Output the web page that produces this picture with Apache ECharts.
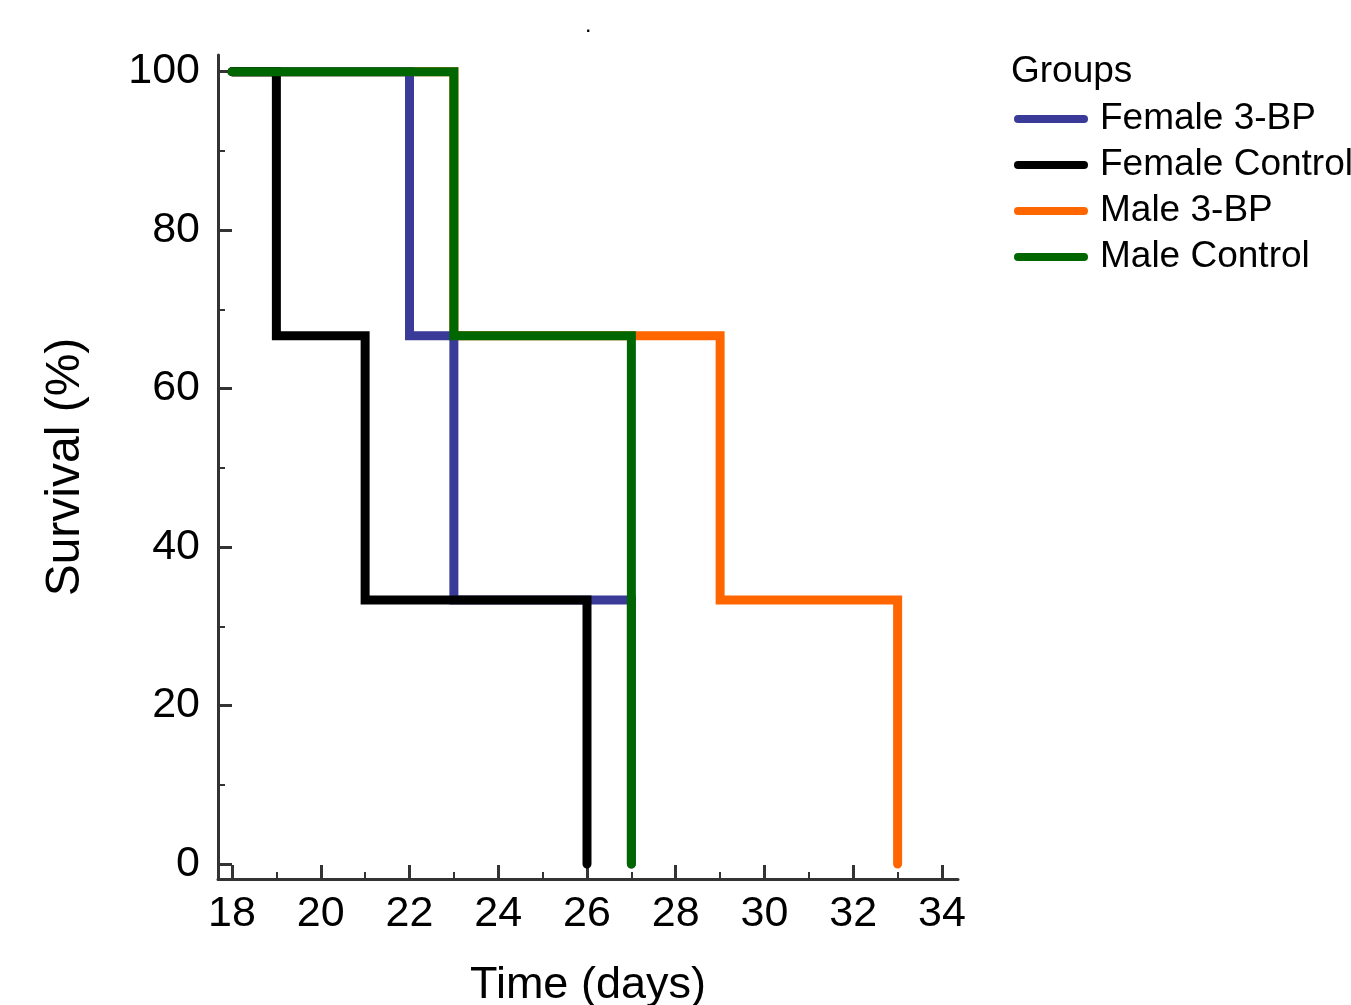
<!DOCTYPE html>
<html>
<head>
<meta charset="utf-8">
<script src="https://cdn.jsdelivr.net/npm/echarts@6/dist/echarts.min.js"></script>
<style>
html,body{margin:0;padding:0;background:#fff;}
#chart{width:1351px;height:1005px;}
</style>
</head>
<body>
<div id="chart"></div>
<script>
// ---- data ----
const groupNames = ['Female 3-BP', 'Female Control', 'Male 3-BP', 'Male Control'];
const femaleBPTimes = [18, 22, 23, 27];
const femaleBPSurv = [100, 66.67, 33.33, 0];
const femaleCtrlTimes = [18, 19, 21, 26];
const femaleCtrlSurv = [100, 66.67, 33.33, 0];
const maleBPTimes = [18, 23, 29, 33];
const maleBPSurv = [100, 66.67, 33.33, 0];
const maleCtrlTimes = [18, 23, 27];
const maleCtrlSurv = [100, 66.67, 0];
const xMajorTicks = [18, 20, 22, 24, 26, 28, 30, 32, 34];
const xMinorTicks = [19, 21, 23, 25, 27, 29, 31, 33];
const yMajorTicks = [0, 20, 40, 60, 80, 100];
const yMinorTicks = [10, 30, 50, 70, 90];

function pairs(t, s) { return t.map((v, i) => [v, s[i]]); }

const colors = {
  'Female 3-BP': '#3a3a98',
  'Female Control': '#000000',
  'Male 3-BP': '#ff6600',
  'Male Control': '#006600'
};
const axisColor = '#333333';
const font = 'Arial, "Liberation Sans", sans-serif';

const xRange = { min: 17.6845, max: 34.3606 };
const yRange = { min: -1.893, max: 102.1 };

function stepSeries(name, t, s, z) {
  return {
    name: name,
    type: 'line',
    step: 'end',
    xAxisIndex: 0,
    yAxisIndex: 0,
    data: pairs(t, s),
    symbol: 'none',
    z: z,
    lineStyle: { color: colors[name], width: 9, cap: 'round', join: 'miter' },
    itemStyle: { color: colors[name] },
    animation: false
  };
}

const pill = 'path://M4,0 L70,0 A4,4 0 0 1 70,8 L4,8 A4,4 0 0 1 4,0 Z';

const option = {
  backgroundColor: '#ffffff',
  animation: false,
  title: [
    { text: 'Groups', left: 1011, top: 53, padding: 0, textStyle: { fontFamily: font, fontSize: 37, fontWeight: 'normal', color: '#000' } },
    { text: '.', left: 586, top: 20, padding: 0, textStyle: { fontFamily: font, fontSize: 16, fontWeight: 'bold', color: '#000' } }
  ],
  legend: {
    orient: 'vertical',
    left: 1014,
    top: 95,
    padding: 0,
    data: groupNames.map(n => ({ name: n, icon: pill, itemStyle: { color: colors[n] } })),
    itemWidth: 74,
    itemHeight: 8,
    itemGap: -2,
    selectedMode: false,
    textStyle: { fontFamily: font, fontSize: 37, color: '#000', lineHeight: 40, padding: [0, 0, 8, 7] }
  },
  grid: { left: 218, right: 393, top: 55, bottom: 126, containLabel: false, outerBoundsMode: 'none' },
  xAxis: [
    {
      type: 'value', min: xRange.min, max: xRange.max,
      name: 'Time (days)', nameLocation: 'middle', nameGap: 84,
      nameTextStyle: { fontFamily: font, fontSize: 45, color: '#000' },
      axisLine: { show: true, onZero: false, lineStyle: { color: axisColor, width: 3 } },
      axisTick: { show: true, inside: true, length: 14, customValues: xMajorTicks, lineStyle: { color: axisColor, width: 3 } },
      axisLabel: { show: true, customValues: xMajorTicks, margin: 14, fontFamily: font, fontSize: 43, color: '#000' },
      splitLine: { show: false }
    },
    {
      type: 'value', min: xRange.min, max: xRange.max, position: 'bottom',
      axisLine: { show: false, onZero: false },
      axisTick: { show: true, inside: true, length: 7, customValues: xMinorTicks, lineStyle: { color: axisColor, width: 2 } },
      axisLabel: { show: false },
      splitLine: { show: false }
    }
  ],
  yAxis: [
    {
      type: 'value', min: yRange.min, max: yRange.max,
      name: 'Survival (%)', nameLocation: 'middle', nameGap: 128, nameRotate: 90,
      nameTextStyle: { fontFamily: font, fontSize: 48, color: '#000' },
      axisLine: { show: true, onZero: false, lineStyle: { color: axisColor, width: 3 } },
      axisTick: { show: true, inside: true, length: 14, customValues: yMajorTicks, lineStyle: { color: axisColor, width: 3 } },
      axisLabel: { show: true, customValues: yMajorTicks, margin: 18, fontFamily: font, fontSize: 43, color: '#000' },
      splitLine: { show: false }
    },
    {
      type: 'value', min: yRange.min, max: yRange.max, position: 'left',
      axisLine: { show: false, onZero: false },
      axisTick: { show: true, inside: true, length: 7, customValues: yMinorTicks, lineStyle: { color: axisColor, width: 2 } },
      axisLabel: { show: false },
      splitLine: { show: false }
    }
  ],
  series: [
    stepSeries('Male 3-BP', maleBPTimes, maleBPSurv, 2),
    stepSeries('Female 3-BP', femaleBPTimes, femaleBPSurv, 3),
    stepSeries('Female Control', femaleCtrlTimes, femaleCtrlSurv, 4),
    stepSeries('Male Control', maleCtrlTimes, maleCtrlSurv, 5)
  ]
};

const chart = echarts.init(document.getElementById('chart'), null, { renderer: 'canvas' });
chart.setOption(option);
</script>
</body>
</html>
